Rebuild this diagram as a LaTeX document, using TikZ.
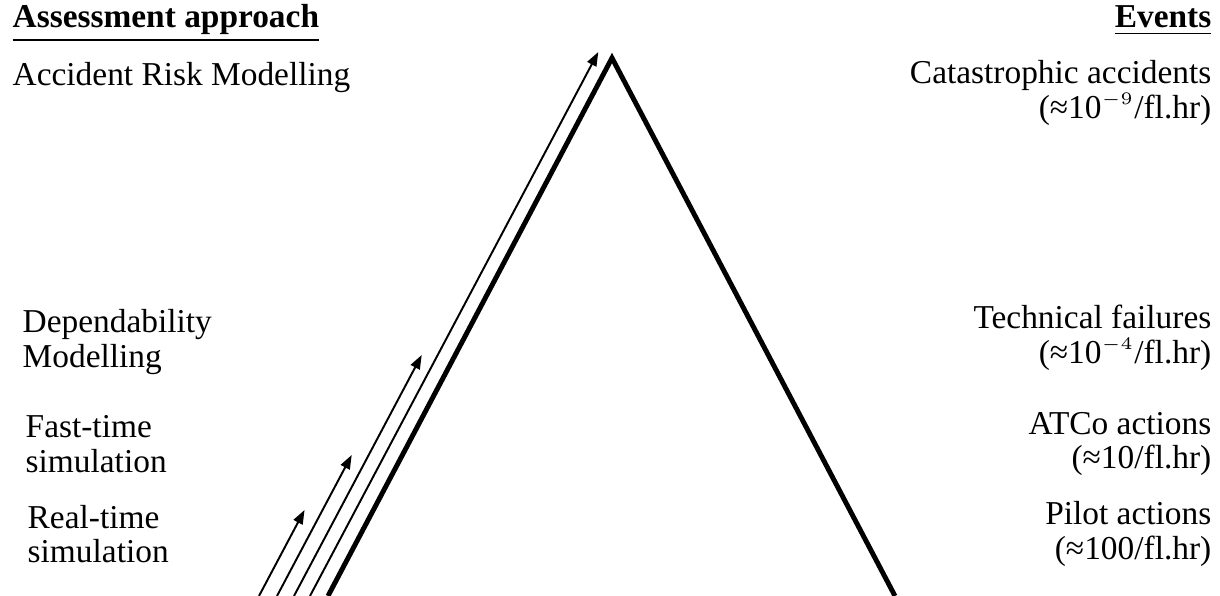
\documentclass[tikz,border=0pt]{standalone}
\usepackage{fontspec}
\setmainfont{Liberation Serif}
\usepackage{tikz}
\usetikzlibrary{positioning, arrows.meta, calc}

\begin{document}
\begin{tikzpicture}[
    txt/.style={inner sep=0pt, font=\fontsize{9.5}{9.8}\selectfont},
    lefttxt/.style={txt, anchor=west, align=left},
    righttxt/.style={txt, anchor=east, align=right},
    pyramid/.style={line width=1.4pt, line join=miter},
    levelarrow/.style={-{Triangle[length=1.4mm, width=1.0mm]}, line width=0.55pt}
]
    \useasboundingbox (0,0) rectangle (12.2,5.96);

    % Headers
    \node[txt, anchor=base west] (approach) at (0.12,5.68) {\underline{\textbf{Assessment approach}}};
    \node[txt, anchor=base east] (events) at (12.12,5.68) {\underline{\textbf{Events}}};

    % Assessment approaches on the left
    \node[lefttxt] (arm) at (0.12,5.18) {Accident Risk Modelling};
    \node[lefttxt] (dm) at (0.22,2.54) {Dependability\\Modelling};
    \node[lefttxt] (fts) at (0.25,1.52) {Fast-time\\simulation};
    \node[lefttxt] (rts) at (0.27,0.62) {Real-time\\simulation};

    % Events with their frequencies on the right
    \node[righttxt] (cat) at (12.12,5.03) {Catastrophic accidents\\(≈10$^{\scriptscriptstyle -9}$/fl.hr)};
    \node[righttxt] (tech) at (12.12,2.58) {Technical failures\\(≈10$^{\scriptscriptstyle -4}$/fl.hr)};
    \node[righttxt] (atco) at (12.12,1.52) {ATCo actions\\(≈10/fl.hr)};
    \node[righttxt] (pilot) at (12.12,0.62) {Pilot actions\\(≈100/fl.hr)};

    % Pyramid
    \coordinate (base L) at (3.28,0);
    \coordinate (top) at (6.12,5.38);
    \coordinate (base R) at (8.95,0);
    \draw[pyramid] (base L) -- (top) -- (base R);

    % Arrows along the left flank
    \foreach \x/\h/\n in {2.59/0.86/rts, 2.77/1.41/fts, 2.94/2.41/dm, 3.10/5.44/arm} {
        \coordinate (from \n) at (\x,0);
        \coordinate (to \n) at ($(from \n)+(0.53*\h,\h)$);
        \draw[levelarrow] (from \n) -- (to \n);
    }
\end{tikzpicture}
\end{document}
